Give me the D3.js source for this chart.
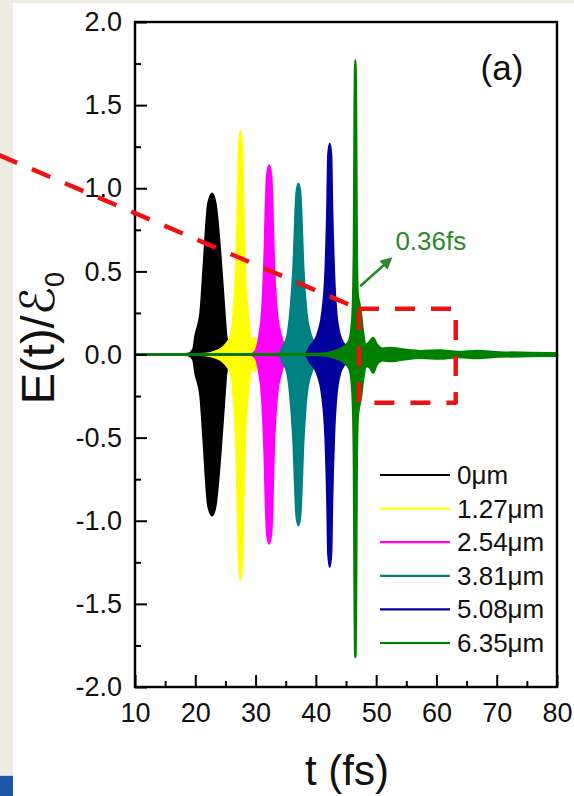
<!DOCTYPE html>
<html>
<head>
<meta charset="utf-8">
<script src="https://cdn.jsdelivr.net/npm/d3@7"></script>
<style>
  html, body { margin: 0; padding: 0; background: #ffffff; }
  svg { display: block; }
  text { font-family: "Liberation Sans", Arial, Helvetica, sans-serif; }
</style>
</head>
<body>
<script>
// ---------------- DATA ----------------
const seriesNames = ["0\u03bcm", "1.27\u03bcm", "2.54\u03bcm", "3.81\u03bcm", "5.08\u03bcm", "6.35\u03bcm"];
const seriesColors = ["#000000", "#ffff00", "#ff00ff", "#008080", "#00009c", "#008000"];

// envelope samples: [t (fs), upper E/E0, lower E/E0]
const env0um = [[10,0,0],[18.8,0.005,-0.005],[19.6,0.03,-0.03],[19.95,0.11,-0.11],[20.8,0.25,-0.25],[21.3,0.51,-0.51],[22.1,0.91,-0.91],[22.8,0.97,-0.97],[23.4,0.91,-0.91],[24.4,0.51,-0.51],[24.9,0.25,-0.25],[25.2,0.11,-0.11],[25.75,0.03,-0.03],[26.5,0.005,-0.005],[80,0,0]];
const env127um = [[10,0,0],[21.6,0.005,-0.005],[23.3,0.02,-0.02],[24.4,0.04,-0.04],[25.4,0.08,-0.08],[25.85,0.11,-0.11],[26.3,0.25,-0.25],[26.7,0.51,-0.51],[27.08,1.1,-1.1],[27.12,1.2,-1.2],[27.5,1.35,-1.36],[27.88,1.2,-1.2],[27.92,1.1,-1.1],[28.3,0.51,-0.51],[28.75,0.25,-0.25],[29.15,0.11,-0.11],[29.35,0.07,-0.07],[29.7,0.1,-0.1],[30.0,0.1,-0.1],[30.3,0.05,-0.05],[30.8,0.01,-0.01],[31.5,0.003,-0.003],[80,0,0]];
const env254um = [[10,0,0],[29.1,0.003,-0.003],[29.9,0.02,-0.02],[30.55,0.11,-0.11],[31.0,0.25,-0.25],[31.35,0.51,-0.51],[31.85,1.08,-1.08],[32.25,1.14,-1.14],[32.65,1.08,-1.08],[33.15,0.51,-0.51],[33.6,0.25,-0.25],[34.3,0.11,-0.11],[34.7,0.06,-0.06],[35.2,0.03,-0.03],[36.0,0.003,-0.003],[80,0,0]];
const env381um = [[10,0,0],[33.7,0.003,-0.003],[34.5,0.05,-0.05],[35.2,0.11,-0.11],[35.7,0.25,-0.25],[36.2,0.51,-0.51],[36.75,0.98,-0.98],[37.1,1.03,-1.03],[37.45,0.98,-0.98],[38.0,0.51,-0.51],[38.5,0.25,-0.25],[39.3,0.11,-0.11],[40.1,0.05,-0.05],[41.0,0.01,-0.01],[41.7,0.003,-0.003],[80,0,0]];
const env508um = [[10,0,0],[38.2,0.003,-0.003],[39.0,0.05,-0.05],[40.1,0.11,-0.11],[41.0,0.25,-0.25],[41.55,0.51,-0.51],[41.85,0.9,-0.9],[42.0,1.2,-1.2],[42.3,1.27,-1.28],[42.6,1.2,-1.2],[42.75,0.9,-0.9],[43.05,0.51,-0.51],[43.45,0.25,-0.25],[44.1,0.11,-0.11],[45.1,0.05,-0.05],[46.5,0.03,-0.03],[48.1,0.02,-0.02],[50.6,0.01,-0.01],[53.1,0.003,-0.003],[80,0,0]];
const env635um = [[10,0,0],[40.7,0.003,-0.003],[43.2,0.02,-0.02],[44.8,0.05,-0.05],[45.6,0.09,-0.09],[46.05,0.22,-0.22],[46.3,0.6,-0.6],[46.43,1.5,-1.5],[46.55,1.77,-1.82],[46.67,1.5,-1.5],[46.8,0.6,-0.6],[46.95,0.36,-0.38],[47.25,0.3,-0.3],[47.5,0.24,-0.25],[47.8,0.14,-0.16],[48.3,0.06,-0.07],[49.0,0.08,-0.08],[49.5,0.1,-0.11],[50.1,0.06,-0.06],[51.1,0.035,-0.035],[52.3,0.04,-0.04],[54.4,0.03,-0.03],[57.3,0.02,-0.02],[60.6,0.025,-0.025],[63.6,0.015,-0.015],[66.7,0.022,-0.022],[70.5,0.013,-0.013],[75.5,0.01,-0.01],[80,0.008,-0.008]];
const seriesEnvelopes = [env0um, env127um, env254um, env381um, env508um, env635um];

const xMajorTicks = [10, 20, 30, 40, 50, 60, 70, 80];
const xMinorTicks = [15, 25, 35, 45, 55, 65, 75];
const yMajorTicks = [-2.0, -1.5, -1.0, -0.5, 0.0, 0.5, 1.0, 1.5, 2.0];
const yMinorTicks = [-1.75, -1.25, -0.75, -0.25, 0.25, 0.75, 1.25, 1.75];

// annotations (data units)
const zoomBox = { t0: 47.15, t1: 63.2, v0: 0.275, v1: -0.29 };
const leaderStart = { t: -12.6, v: 1.2 };
const arrowFrom = { t: 47.35, v: 0.41 };
const arrowTo = { t: 52.7, v: 0.585 };
const arrowLabel = "0.36fs";
const panelLabel = "(a)";

// ---------------- LAYOUT ----------------
const W = 574, H = 796;
const plot = { left: 135, top: 22, right: 557, bottom: 687 };

const svg = d3.select("body").append("svg").attr("width", W).attr("height", H);

// slide background
svg.append("rect").attr("x", 0).attr("y", 0).attr("width", W).attr("height", H).attr("fill", "#ffffff");
svg.append("rect").attr("x", 0).attr("y", 0).attr("width", 13).attr("height", H).attr("fill", "#eeece1");
svg.append("rect").attr("x", 0).attr("y", 0).attr("width", W).attr("height", 3).attr("fill", "#eeece1");
svg.append("rect").attr("x", 0).attr("y", 775).attr("width", 13).attr("height", 1).attr("fill", "#c8cfe0");
svg.append("rect").attr("x", 0).attr("y", 776).attr("width", 13).attr("height", 20).attr("fill", "#1f56a8");

const x = d3.scaleLinear().domain([10, 80]).range([plot.left, plot.right]);
const y = d3.scaleLinear().domain([-2, 2]).range([plot.bottom, plot.top]);

// ---------------- SERIES ----------------
const area = d3.area()
  .x(d => x(d[0]))
  .y0(d => y(d[2]))
  .y1(d => y(d[1]))
  .curve(d3.curveMonotoneX);

const gSeries = svg.append("g");
seriesEnvelopes.forEach((env, i) => {
  gSeries.append("path")
    .datum(env)
    .attr("d", area)
    .attr("fill", seriesColors[i])
    .attr("stroke", seriesColors[i])
    .attr("stroke-width", i === 5 ? 2.4 : 1.6)
    .attr("stroke-linejoin", "round");
});

// ---------------- AXES ----------------
const fmt = d => d.toFixed(1);
const tickFont = 27;

const gx = svg.append("g").attr("transform", `translate(0,${plot.bottom})`)
  .call(d3.axisBottom(x).tickValues(xMajorTicks).tickSizeInner(-12).tickSizeOuter(0).tickPadding(16).tickFormat(d3.format("d")));
const gxm = svg.append("g").attr("transform", `translate(0,${plot.bottom})`)
  .call(d3.axisBottom(x).tickValues(xMinorTicks).tickSizeInner(-6).tickSizeOuter(0).tickFormat(""));
const gy = svg.append("g").attr("transform", `translate(${plot.left},0)`)
  .call(d3.axisLeft(y).tickValues(yMajorTicks).tickSizeInner(-12).tickSizeOuter(0).tickPadding(13).tickFormat(fmt));
const gym = svg.append("g").attr("transform", `translate(${plot.left},0)`)
  .call(d3.axisLeft(y).tickValues(yMinorTicks).tickSizeInner(-6).tickSizeOuter(0).tickFormat(""));

[gx, gxm, gy, gym].forEach(g => {
  g.select(".domain").remove();
  g.selectAll(".tick line").attr("stroke", "#000").attr("stroke-width", 2);
  g.selectAll(".tick text").attr("fill", "#111").style("font-size", tickFont + "px")
    .style("font-family", '"Liberation Sans", Arial, sans-serif');
});

// frame
svg.append("rect")
  .attr("x", plot.left).attr("y", plot.top)
  .attr("width", plot.right - plot.left).attr("height", plot.bottom - plot.top)
  .attr("fill", "none").attr("stroke", "#000").attr("stroke-width", 2.4);

// axis titles
svg.append("text")
  .attr("x", (plot.left + plot.right) / 2 + 1).attr("y", 785)
  .attr("text-anchor", "middle").style("font-size", "42px").attr("fill", "#111")
  .text("t (fs)");

const yl = svg.append("text")
  .attr("transform", "translate(54,338) rotate(-90)")
  .attr("text-anchor", "middle").style("font-size", "47px").attr("fill", "#111");
yl.append("tspan").text("E(t)/");
yl.append("tspan").style("font-family", '"DejaVu Serif", "DejaVu Sans", serif').style("font-style", "italic").text("\u2130");
yl.append("tspan").attr("dy", 10).style("font-size", "27px").text("0");

// panel label
svg.append("text").attr("x", 502).attr("y", 80).attr("text-anchor", "middle")
  .style("font-size", "35px").attr("fill", "#111").text(panelLabel);

// ---------------- LEGEND ----------------
const legendTop = 475, legendStep = 33.6;
const gl = svg.append("g");
seriesNames.forEach((name, i) => {
  const yy = legendTop + i * legendStep;
  gl.append("line").attr("x1", 380).attr("x2", 450).attr("y1", yy).attr("y2", yy)
    .attr("stroke", seriesColors[i]).attr("stroke-width", 2.2);
  gl.append("text").attr("x", 457).attr("y", yy + 9).style("font-size", "26px")
    .attr("fill", "#111").text(name);
});

// ---------------- ANNOTATIONS ----------------
const red = "#ee1111";
svg.append("path")
  .attr("d", `M${x(zoomBox.t0)},${y(zoomBox.v0)}H${x(zoomBox.t1)}V${y(zoomBox.v1)}H${x(zoomBox.t0)}Z`)
  .attr("fill", "none").attr("stroke", red).attr("stroke-width", 4.5)
  .attr("stroke-dasharray", "20,16").attr("stroke-linejoin", "round");
svg.append("line")
  .attr("x1", x(leaderStart.t)).attr("y1", y(leaderStart.v))
  .attr("x2", x(zoomBox.t0)).attr("y2", y(zoomBox.v0))
  .attr("stroke", red).attr("stroke-width", 4.5).attr("stroke-dasharray", "20,16");

const green = "#2a8a2a";
const ax1 = x(arrowFrom.t), ay1 = y(arrowFrom.v), ax2 = x(arrowTo.t), ay2 = y(arrowTo.v);
const ang = Math.atan2(ay2 - ay1, ax2 - ax1);
const hl = 12, hw = 6;
svg.append("line").attr("x1", ax1).attr("y1", ay1)
  .attr("x2", ax2 - Math.cos(ang) * hl * 0.8).attr("y2", ay2 - Math.sin(ang) * hl * 0.8)
  .attr("stroke", green).attr("stroke-width", 2.6);
const bx = ax2 - Math.cos(ang) * hl, by = ay2 - Math.sin(ang) * hl;
svg.append("path")
  .attr("d", `M${ax2},${ay2}L${bx - Math.sin(ang) * hw},${by + Math.cos(ang) * hw}L${bx + Math.sin(ang) * hw},${by - Math.cos(ang) * hw}Z`)
  .attr("fill", green);
svg.append("text").attr("x", ax2 + 3).attr("y", 250).style("font-size", "26px")
  .attr("fill", green).text(arrowLabel);
</script>
</body>
</html>
